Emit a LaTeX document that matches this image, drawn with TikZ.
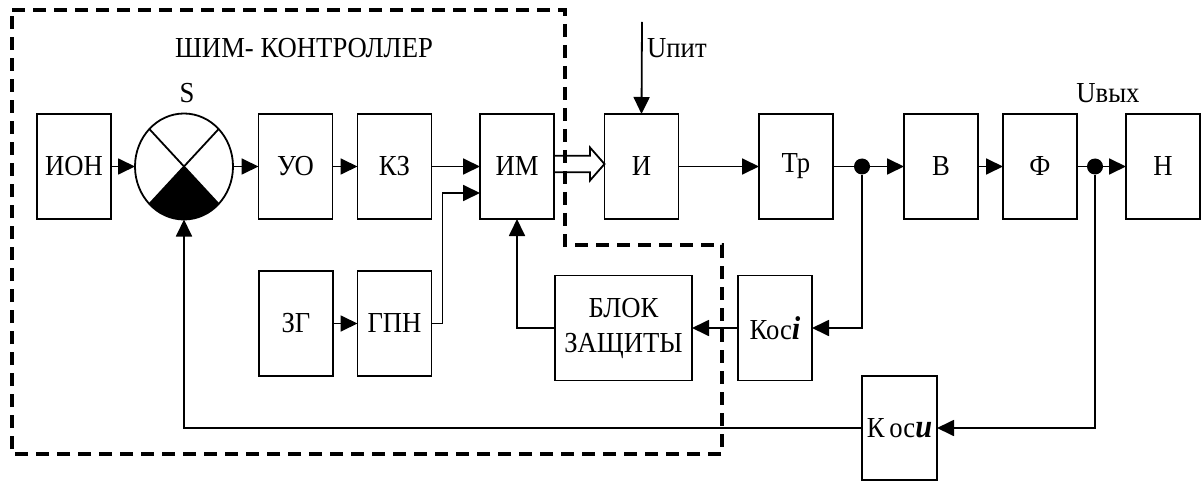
\documentclass[tikz,border=0pt]{standalone}
\usepackage{fontspec}
\setmainfont{Liberation Serif}[FakeStretch=0.92]
\usetikzlibrary{arrows.meta,shapes.geometric,calc}
\begin{document}
\begin{tikzpicture}[x=1pt,y=1pt,
  blk/.style={draw,line width=1.8pt,minimum width=74pt,minimum height=105pt,inner sep=0pt,outer sep=0pt,font=\fontsize{29}{35}\selectfont},
  con/.style={line width=1.8pt,-{Triangle[length=17pt,width=16pt]}},
  ln/.style={line width=1.8pt},
  lbl/.style={font=\fontsize{29}{35}\selectfont,inner sep=0pt},
  frame/.style={line width=4pt,dash pattern=on 13pt off 8pt},
  dot/.style={circle,fill,inner sep=0pt,minimum size=16pt}]
\useasboundingbox (0,0) rectangle (1204,-481);

% main row
\node[blk] (ion) at (74,-166.5) {ИОН};
\node[draw,ellipse,line width=1.8pt,minimum width=98pt,minimum height=106pt,inner sep=0pt,outer sep=0pt,
  path picture={
    \fill (path picture bounding box.center) -- ++(-70,-76) -- ++(140,0) -- cycle;
    \draw[ln] ($(path picture bounding box.center)+(-34.65,37.48)$) -- ($(path picture bounding box.center)+(34.65,-37.48)$);
    \draw[ln] ($(path picture bounding box.center)+(34.65,37.48)$) -- ($(path picture bounding box.center)+(-34.65,-37.48)$);
  }] (S) at (184,-166.5) {};
\node[blk] (uo) at (295.5,-166.5) {УО};
\node[blk] (kz) at (394.5,-166.5) {КЗ};
\node[blk] (im) at (517,-166.5) {ИМ};
\node[blk] (i) at (641.5,-166.5) {И};
\node[blk] (tr) at (796,-166.5) {Тр};
\node[blk] (v) at (941,-166.5) {В};
\node[blk] (f) at (1040,-166.5) {Ф};
\node[blk] (n) at (1163,-166.5) {Н};

% lower row
\node[blk] (zg) at (296,-323.5) {ЗГ};
\node[blk] (gpn) at (394.5,-323.5) {ГПН};
\node[blk,minimum width=137pt,align=center] (blok) at (623.5,-328) {БЛОК\\ЗАЩИТЫ};
\node[blk] (kosi) at (775,-328) {Кос{\fontsize{33}{35}\selectfont\textbf{\textit{i}}}};
\node[blk,minimum width=75pt,minimum height=104pt] (kosu) at (899.5,-428) {К\,ос{\fontsize{33}{35}\selectfont\textbf{\textit{u}}}};

% labels
\node[lbl] (slab) at (187,-93) {S};
\node[lbl] (title) at (304,-48) {ШИМ- КОНТРОЛЛЕР};
\node[lbl,anchor=west] (upit) at (647,-48) {Uпит};
\node[lbl] (uvyh) at (1108,-93) {Uвых};

% junction dots
\node[dot] (d1) at (862,-166.5) {};
\node[dot] (d2) at (1095,-166.5) {};
\coordinate (utop) at (642,-22);

% connectors
\draw[con] (ion) -- (S);
\draw[con] (S) -- (uo);
\draw[con] (uo) -- (kz);
\draw[con] (kz) -- (im);
\draw[con] (zg) -- (gpn);
\draw[con] (gpn.east) -- ++(11,0) |- ([yshift=-26.5pt]im.west);
\draw[con] (utop) -- (i.north);
\draw[con] (i) -- (tr);
\draw[ln] (tr.east) -- (d1);
\draw[con] (d1) -- (v.west);
\draw[con] (v) -- (f);
\draw[ln] (f.east) -- (d2);
\draw[con] (d2) -- (n.west);
\draw[con] (d1) |- (kosi.east);
\draw[con] (kosi) -- (blok);
\draw[con] (blok.west) -| (im.south);
\draw[con] (d2) |- (kosu.east);
\draw[con] (kosu.west) -| (S.south);

% hollow double arrow IM -> I
\coordinate (ha) at ($(im.east)+(0,2.5)$);
\draw[line width=1.8pt,line join=miter] ($(ha)+(0,8.3)$) -- ++(36,0) -- ++(0,8.2) -- (ha -| i.west)
  -- ($(ha)+(36,-16.5)$) -- ++(0,8.2) -- ++(-36,0);

% dashed controller frame
\draw[frame] (12,-10) -- (565,-10) -- (565,-245) -- (722,-245) -- (722,-454) -- (12,-454) -- cycle;
\end{tikzpicture}
\end{document}
